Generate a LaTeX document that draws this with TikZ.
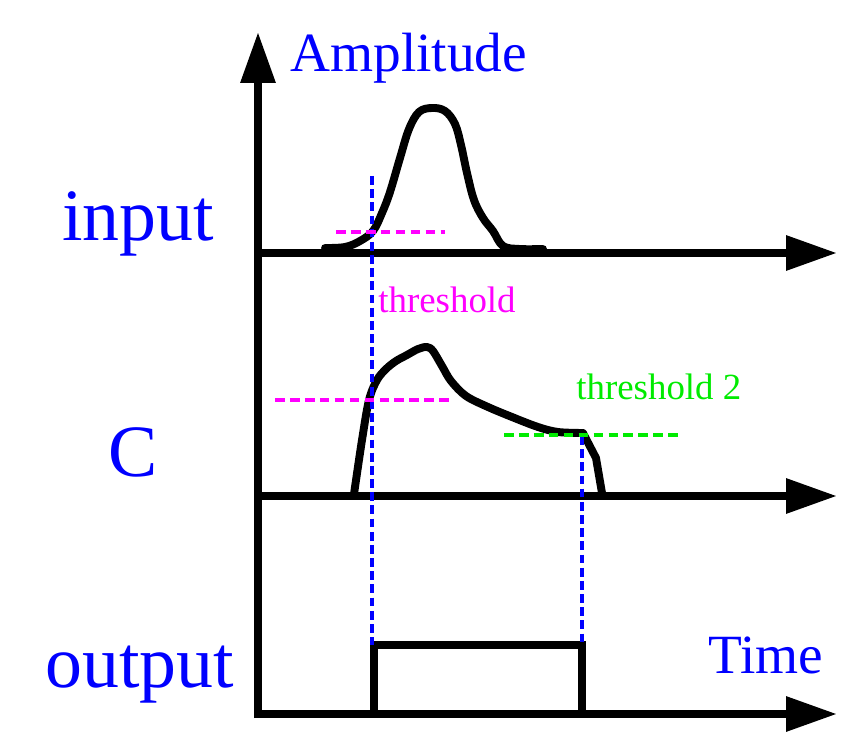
\documentclass[tikz,border=0pt]{standalone}
\usepackage{fontspec}
\setmainfont{Liberation Serif}
\usetikzlibrary{arrows.meta}
\definecolor{tblue}{RGB}{0,0,255}
\definecolor{tmag}{RGB}{255,0,255}
\definecolor{tgreen}{RGB}{0,235,0}
\begin{document}
\begin{tikzpicture}[x=0.02cm,y=-0.02cm,
  axis/.style={line width=4.6pt,-{Triangle[length=29pt,width=19pt]}},
  sig/.style={line width=4.5pt,line join=round,line cap=round},
  outbox/.style={line width=4pt,line join=miter},
  vdash/.style={tblue,line width=2pt,dash pattern=on 5pt off 2.5pt},
  mdash/.style={tmag,line width=2.2pt,dash pattern=on 5.5pt off 3pt},
  gdash/.style={tgreen,line width=2.2pt,dash pattern=on 5.5pt off 3pt},
  big/.style={text=tblue,font=\fontsize{42}{42}\selectfont,inner sep=0pt,anchor=base west},
  med/.style={text=tblue,font=\fontsize{31.5}{32}\selectfont,inner sep=0pt,anchor=base west},
  small/.style={font=\fontsize{21}{21}\selectfont,inner sep=0pt,anchor=base west}]
\fill[white] (0,0) rectangle (861,753);
\useasboundingbox (0,0) rectangle (861,753);

% coordinates
\coordinate (vbot) at (258,718);
\coordinate (vtop) at (258,32);
\coordinate (bl) at (254,714);
\coordinate (br) at (837,714);
\coordinate (il) at (258,253);
\coordinate (ir) at (837,253);
\coordinate (cl) at (258,496);
\coordinate (cr) at (837,496);

% axes
\draw[axis] (vbot) -- (vtop);
\draw[axis] (il) -- (ir);
\draw[axis] (cl) -- (cr);
\draw[axis] (bl) -- (br);

% input pulse
\draw[sig] plot[smooth,tension=0.6] coordinates {(325,248) (345,247) (360,241) (373,231) (382,213) (390,192) (400,158) (409,129) (419,112) (432,108) (445,111) (455,124) (461,145) (467,173) (474,200) (483,218) (493,231) (503,246) (520,249) (543,249)};

% C pulse
\draw[sig] plot[smooth,tension=0.55] coordinates {(354,494) (362,440) (369,400) (377,380) (386,369) (396,361) (407,355) (418,349) (427,347) (433,351) (442,366) (451,381) (466,396) (488,407) (512,417) (538,427) (558,432) (583,433)} -- (596,458) -- (602,493);

% output pulse
\coordinate (o1) at (374,714);
\coordinate (o2) at (374,645);
\coordinate (o3) at (582,645);
\coordinate (o4) at (582,714);
\draw[outbox] (o1) -- (o2) -- (o3) -- (o4);

% dashed lines
\coordinate (b1t) at (372,176);
\coordinate (b1b) at (372,645);
\coordinate (b2t) at (582,436);
\coordinate (b2b) at (582,645);
\draw[vdash] (b1t) -- (b1b);
\draw[vdash] (b2t) -- (b2b);
\coordinate (m1l) at (336,232);
\coordinate (m1r) at (445,232);
\coordinate (m2l) at (275,400);
\coordinate (m2r) at (450,400);
\draw[mdash] (m1l) -- (m1r);
\draw[mdash] (m2l) -- (m2r);
\coordinate (g1l) at (504,435);
\coordinate (g1r) at (680,435);
\draw[gdash] (g1l) -- (g1r);

% labels
\node[med] (amp) at (290,72) {Amplitude};
\node[med] (time) at (708,673) {Time};
\node[big] (inp) at (62,240) {input};
\node[big] (cc) at (108,476) {C};
\node[big] (outp) at (45,687) {output};
\node[small,text=tmag] (th1) at (378,312) {threshold};
\node[small,text=tgreen] (th2) at (576,399) {threshold 2};
\end{tikzpicture}
\end{document}
